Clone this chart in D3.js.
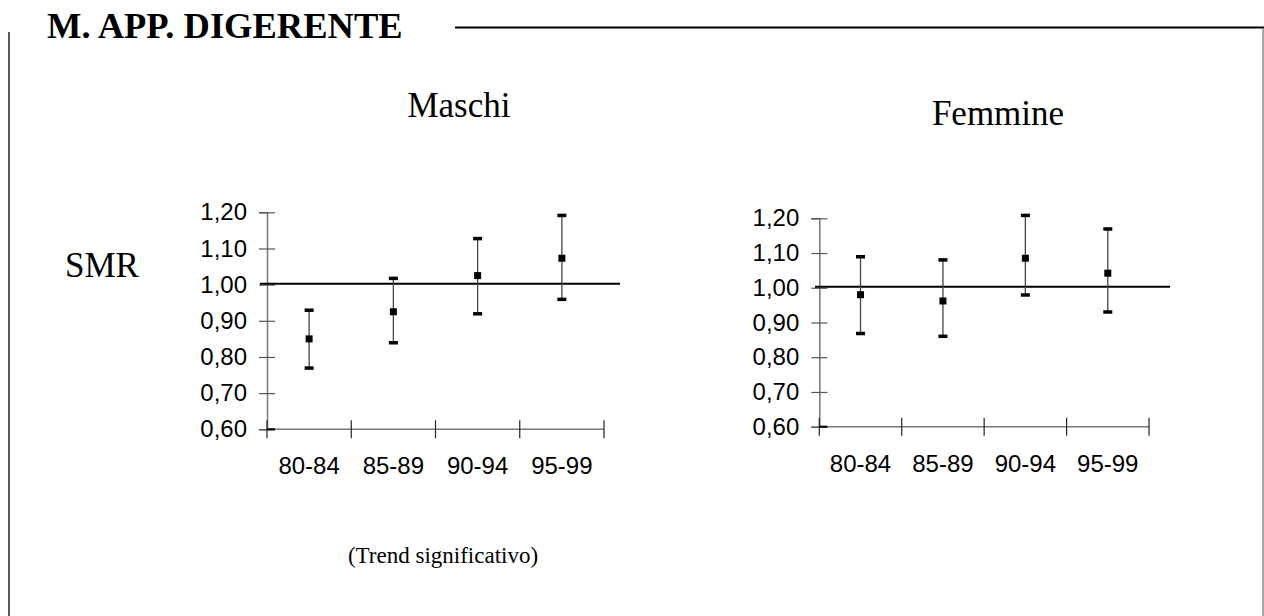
<!DOCTYPE html>
<html>
<head>
<meta charset="utf-8">
<script src="https://cdn.jsdelivr.net/npm/d3@7"></script>
<style>
  html, body { margin: 0; padding: 0; background: #fff; }
  svg { display: block; }
  .serif { font-family: "Liberation Serif", "Times New Roman", serif; }
  .sans { font-family: "Liberation Sans", Arial, sans-serif; }
</style>
</head>
<body>
<svg id="chart" width="1264" height="616"></svg>
<script>
// Periods of observation
const periods = ["80-84", "85-89", "90-94", "95-99"];
// SMR and 95% confidence limits, males
const maleSMR   = [0.85, 0.925, 1.025, 1.073];
const maleLow   = [0.77, 0.84, 0.92, 0.96];
const maleHigh  = [0.93, 1.018, 1.128, 1.192];
// SMR and 95% confidence limits, females
const femaleSMR  = [0.98, 0.962, 1.085, 1.042];
const femaleLow  = [0.869, 0.861, 0.98, 0.931];
const femaleHigh = [1.09, 1.081, 1.209, 1.17];
// Y-axis ticks and reference value
const yTicks = [0.6, 0.7, 0.8, 0.9, 1.0, 1.1, 1.2];
const reference = 1.0;

const svg = d3.select("#chart");
const itFormat = d3.formatLocale({ decimal: ",", thousands: ".", grouping: [3], currency: ["", "€"] }).format(".2f");

// Frame: heading, rule, side borders
svg.append("text").attr("class", "serif")
  .attr("x", 47).attr("y", 38)
  .attr("font-size", 36.5).attr("font-weight", "bold")
  .text("M. APP. DIGERENTE");
svg.append("line").attr("x1", 455).attr("x2", 1264).attr("y1", 27.5).attr("y2", 27.5)
  .attr("stroke", "#000").attr("stroke-width", 2);
svg.append("line").attr("x1", 9).attr("x2", 9).attr("y1", 32).attr("y2", 616)
  .attr("stroke", "#222").attr("stroke-width", 1.5);
svg.append("line").attr("x1", 1263).attr("x2", 1263).attr("y1", 28).attr("y2", 616)
  .attr("stroke", "#888").attr("stroke-width", 1.5);

svg.append("text").attr("class", "serif")
  .attr("x", 65).attr("y", 277).attr("font-size", 35)
  .text("SMR");

svg.append("text").attr("class", "serif")
  .attr("x", 443).attr("y", 563).attr("font-size", 23)
  .attr("text-anchor", "middle")
  .text("(Trend significativo)");

function panel(opts) {
  const { title, titleX, titleY, x0, x1, yTop, yBottom, lineX0, lineX1, smr, low, high } = opts;
  const g = svg.append("g");

  const x = d3.scaleBand().domain(periods).range([x0, x1]);
  const y = d3.scaleLinear().domain([0.6, 1.2]).range([yBottom, yTop]);

  g.append("text").attr("class", "serif")
    .attr("x", titleX).attr("y", titleY).attr("font-size", 35)
    .attr("text-anchor", "middle").text(title);

  // Y axis with ticks crossing the axis line
  const yAxis = g.append("g").attr("transform", `translate(${x0},0)`)
    .call(d3.axisLeft(y).tickValues(yTicks).tickFormat(itFormat).tickSize(8).tickPadding(12));
  yAxis.select(".domain").attr("stroke", "#777").attr("stroke-width", 1.5);
  yAxis.selectAll(".tick line").attr("x1", 8).attr("stroke", "#555").attr("stroke-width", 1.2);
  yAxis.selectAll(".tick text").attr("class", "sans").attr("font-size", 24).attr("fill", "#000");

  // X axis: boundary ticks between periods, labels centred in each period
  const bounds = periods.map(p => x(p)).concat([x1]);
  const xAxis = g.append("g").attr("transform", `translate(0,${yBottom})`);
  xAxis.append("line").attr("x1", x0).attr("x2", x1)
    .attr("stroke", "#777").attr("stroke-width", 1.5);
  xAxis.selectAll("line.bt").data(bounds).join("line").attr("class", "bt")
    .attr("x1", d => d).attr("x2", d => d).attr("y1", -9).attr("y2", 9)
    .attr("stroke", "#222").attr("stroke-width", 1.2);
  xAxis.append("line").attr("x1", x0).attr("x2", x0 + 8)
    .attr("stroke", "#000").attr("stroke-width", 2);
  xAxis.selectAll("text").data(periods).join("text").attr("class", "sans")
    .attr("x", d => x(d) + x.bandwidth() / 2).attr("y", 45)
    .attr("text-anchor", "middle").attr("font-size", 24).text(d => d);

  // Reference line at SMR = 1
  g.append("line").attr("x1", lineX0).attr("x2", lineX1)
    .attr("y1", y(reference) - 1).attr("y2", y(reference) - 1)
    .attr("stroke", "#000").attr("stroke-width", 2);

  const cx = i => x(periods[i]) + x.bandwidth() / 2;
  const idx = d3.range(periods.length);

  // Confidence intervals
  g.selectAll("line.ci").data(idx).join("line").attr("class", "ci")
    .attr("x1", cx).attr("x2", cx)
    .attr("y1", i => y(high[i])).attr("y2", i => y(low[i]))
    .attr("stroke", "#444").attr("stroke-width", 1.3);
  g.selectAll("rect.capHi").data(idx).join("rect").attr("class", "capHi")
    .attr("x", i => cx(i) - 4.5).attr("y", i => y(high[i]) - 1.5)
    .attr("width", 9).attr("height", 3.5).attr("fill", "#000");
  g.selectAll("rect.capLo").data(idx).join("rect").attr("class", "capLo")
    .attr("x", i => cx(i) - 4.5).attr("y", i => y(low[i]) - 1.5)
    .attr("width", 9).attr("height", 3.5).attr("fill", "#000");

  // Point estimates
  g.selectAll("rect.pt").data(idx).join("rect").attr("class", "pt")
    .attr("x", i => cx(i) - 3.5).attr("y", i => y(smr[i]) - 3.5)
    .attr("width", 7).attr("height", 7).attr("fill", "#000");
}

panel({
  title: "Maschi", titleX: 459, titleY: 117,
  x0: 267, x1: 604, yTop: 212.3, yBottom: 429.3,
  lineX0: 260, lineX1: 620,
  smr: maleSMR, low: maleLow, high: maleHigh
});

panel({
  title: "Femmine", titleX: 998, titleY: 125,
  x0: 819.3, x1: 1149, yTop: 218.3, yBottom: 426.7,
  lineX0: 815, lineX1: 1170,
  smr: femaleSMR, low: femaleLow, high: femaleHigh
});
</script>
</body>
</html>
